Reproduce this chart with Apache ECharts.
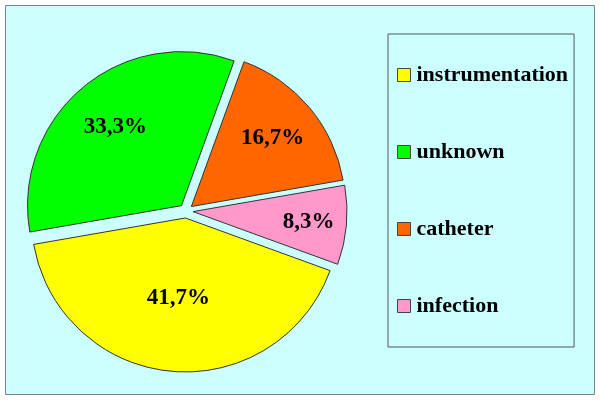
<!DOCTYPE html>
<html>
<head>
<meta charset="utf-8">
<script src="https://cdn.jsdelivr.net/npm/echarts@6/dist/echarts.min.js"></script>
<style>
html,body{margin:0;padding:0;background:#fff;}
#c{width:600px;height:400px;}
</style>
</head>
<body>
<div id="c"></div>
<script>
const categories = ['instrumentation', 'unknown', 'catheter', 'infection'];
const values = [41.7, 33.3, 16.7, 8.3];
const labels = ['41,7%', '33,3%', '16,7%', '8,3%'];
const colors = ['#FFFF00', '#00FF00', '#FF6600', '#FF99CC'];

const startAngle = -20;
const labelExtra = [0, 23, 26, 36];
const total = values.reduce((a, b) => a + b, 0);
const mids = [];
let cum = 0;
values.forEach(v => {
  mids.push((startAngle - (cum + v / 2) / total * 360) * Math.PI / 180);
  cum += v;
});

const chart = echarts.init(document.getElementById('c'));
const font = 'Liberation Serif, Times New Roman, serif';
chart.setOption({
  animation: false,
  backgroundColor: '#ffffff',
  graphic: [{
    type: 'rect', left: 5, top: 5, z: -10,
    shape: { width: 589, height: 389 },
    style: { fill: '#CCFFFF', stroke: '#808080', lineWidth: 1 }
  }],
  legend: {
    orient: 'vertical',
    left: 388, top: 34,
    padding: [30, 6, 30, 9],
    itemGap: 55,
    itemWidth: 13, itemHeight: 13,
    icon: 'rect',
    borderColor: '#555555', borderWidth: 1,
    backgroundColor: '#CCFFFF',
    itemStyle: { borderColor: '#444', borderWidth: 1 },
    textStyle: { fontFamily: font, fontWeight: 'bold', fontSize: 22, color: '#000', padding: [0, 0, 0, 1] },
    selectedMode: false,
    data: categories
  },
  series: [{
    type: 'pie',
    center: [186, 211],
    radius: [0, 154],
    startAngle: startAngle,
    clockwise: true,
    selectedMode: 'multiple',
    selectedOffset: 7,
    silent: true,
    itemStyle: { borderColor: '#333', borderWidth: 1 },
    select: { itemStyle: { borderColor: '#333', borderWidth: 1 } },
    label: {
      show: true, position: 'inside',
      fontFamily: font, fontWeight: 'bold', fontSize: 23, color: '#000',
      formatter: p => labels[p.dataIndex]
    },
    labelLine: { show: false },
    labelLayout: p => ({
      dx: labelExtra[p.dataIndex] * Math.cos(mids[p.dataIndex]),
      dy: -labelExtra[p.dataIndex] * Math.sin(mids[p.dataIndex])
    }),
    data: categories.map((n, i) => ({ name: n, value: values[i], selected: true, itemStyle: { color: colors[i] } }))
  }]
});
</script>
</body>
</html>
